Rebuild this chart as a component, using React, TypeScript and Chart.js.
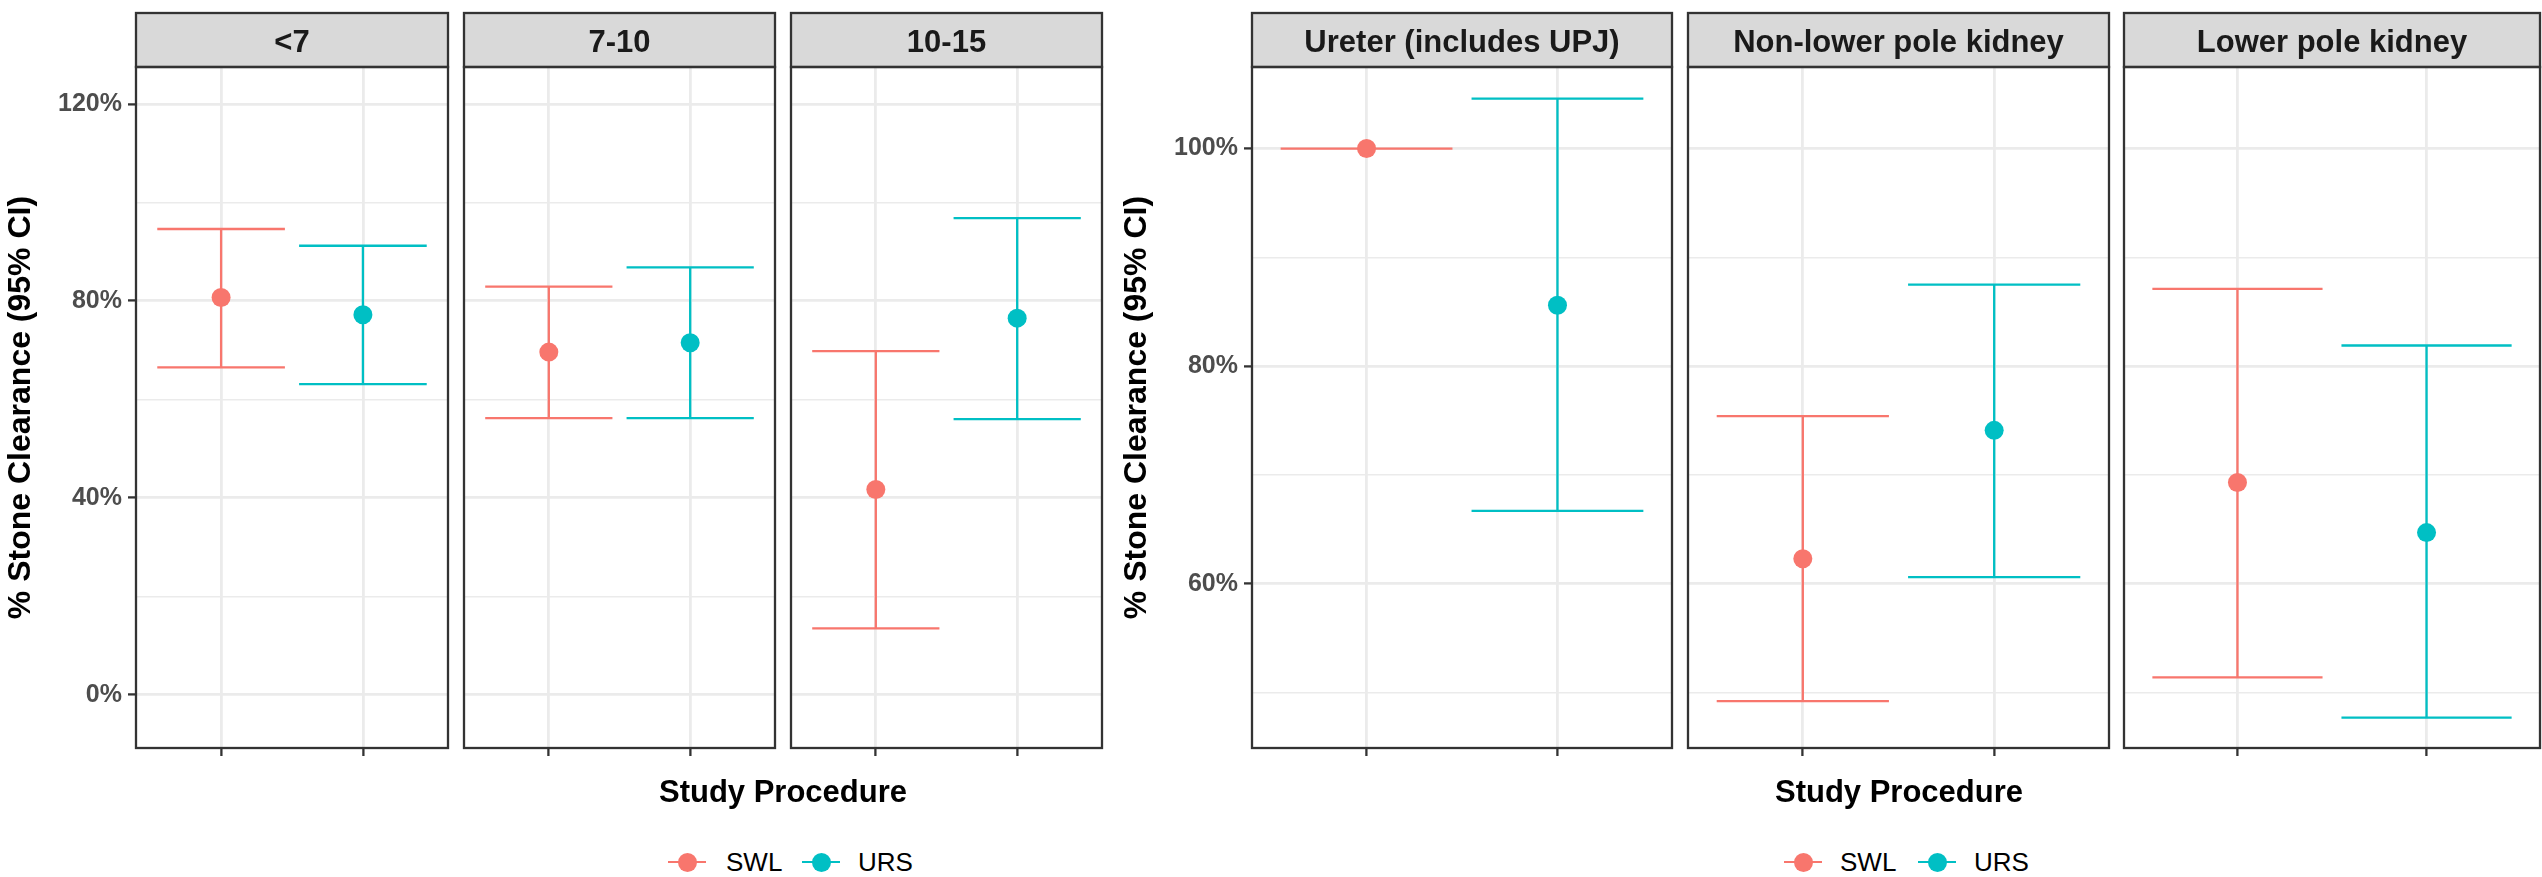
import React, { useEffect, useRef } from "react";
import { Chart, registerables } from "chart.js";

Chart.register(...registerables);

// ---------------- data ----------------
const procedures = ["SWL", "URS"];
const procedurePositions = [1, 2];

const sizeFacets = ["<7", "7-10", "10-15"];
const sizeSwlEst = [80.7, 69.6, 41.7];
const sizeSwlLo = [66.5, 56.2, 13.5];
const sizeSwlHi = [94.6, 82.9, 69.8];
const sizeUrsEst = [77.2, 71.5, 76.5];
const sizeUrsLo = [63.1, 56.2, 56.0];
const sizeUrsHi = [91.2, 86.8, 96.8];
const sizeTicks = [0, 20, 40, 60, 80, 100, 120];
const sizeLabeledTicks = [0, 40, 80, 120];
const sizeRange = [-10.8, 127.5];

const locFacets = ["Ureter (includes UPJ)", "Non-lower pole kidney", "Lower pole kidney"];
const locSwlEst = [100, 62.3, 69.3];
const locSwlLo = [100, 49.2, 51.4];
const locSwlHi = [100, 75.4, 87.1];
const locUrsEst = [85.6, 74.1, 64.7];
const locUrsLo = [66.7, 60.6, 47.7];
const locUrsHi = [104.6, 87.5, 81.9];
const locTicks = [50, 60, 70, 80, 90, 100];
const locLabeledTicks = [60, 80, 100];
const locRange = [44.9, 107.5];

const yTitle = "% Stone Clearance (95% CI)";
const xTitle = "Study Procedure";

// ---------------- style / layout ----------------
const FONT = '"Liberation Sans", Arial, Helvetica, sans-serif';
const COLORS = ["#F8766D", "#00BFC4"];
const GRID = "#ebebeb";
const AXIS = "#333333";
const STRIP_FILL = "#d9d9d9";
const STRIP_H = 54;
const PANEL_TOP = 67;
const PANEL_BOTTOM = 748;
const CANVAS_H = 790;
const Y_AXIS_W = 136;
const ERR_W = 0.9;
const LINE_W = 2.3;
const POINT_R = 9.5;

type PanelSpec = {
  key: string;
  left: number;
  right: number;
  showY: boolean;
  facet: string;
  est: number[];
  lo: number[];
  hi: number[];
  range: number[];
  ticks: number[];
  labeled: number[];
};

const leftPanelBounds = [
  [136, 448],
  [464, 775],
  [791, 1102],
];
const rightPanelBounds = [
  [1252, 1672],
  [1688, 2109],
  [2124, 2540],
];

function buildSpecs(): PanelSpec[] {
  const specs: PanelSpec[] = [];
  sizeFacets.forEach((f, i) => {
    specs.push({
      key: "s" + i,
      left: leftPanelBounds[i][0],
      right: leftPanelBounds[i][1],
      showY: i === 0,
      facet: f,
      est: [sizeSwlEst[i], sizeUrsEst[i]],
      lo: [sizeSwlLo[i], sizeUrsLo[i]],
      hi: [sizeSwlHi[i], sizeUrsHi[i]],
      range: sizeRange,
      ticks: sizeTicks,
      labeled: sizeLabeledTicks,
    });
  });
  locFacets.forEach((f, i) => {
    specs.push({
      key: "l" + i,
      left: rightPanelBounds[i][0],
      right: rightPanelBounds[i][1],
      showY: i === 0,
      facet: f,
      est: [locSwlEst[i], locUrsEst[i]],
      lo: [locSwlLo[i], locUrsLo[i]],
      hi: [locSwlHi[i], locUrsHi[i]],
      range: locRange,
      ticks: locTicks,
      labeled: locLabeledTicks,
    });
  });
  return specs;
}

const errorBarPlugin = {
  id: "errorBars",
  beforeDatasetsDraw(chart: any) {
    const ctx = chart.ctx;
    const xs = chart.scales.x;
    const ys = chart.scales.y;
    ctx.save();
    chart.data.datasets.forEach((ds: any) => {
      ds.data.forEach((d: any) => {
        const cx = xs.getPixelForValue(d.x);
        const l = xs.getPixelForValue(d.x - ERR_W / 2);
        const r = xs.getPixelForValue(d.x + ERR_W / 2);
        const yl = ys.getPixelForValue(d.lo);
        const yh = ys.getPixelForValue(d.hi);
        ctx.strokeStyle = ds.borderColor;
        ctx.lineWidth = LINE_W;
        ctx.lineCap = "butt";
        ctx.beginPath();
        ctx.moveTo(cx, yl);
        ctx.lineTo(cx, yh);
        ctx.moveTo(l, yh);
        ctx.lineTo(r, yh);
        ctx.moveTo(l, yl);
        ctx.lineTo(r, yl);
        ctx.stroke();
      });
    });
    ctx.restore();
  },
};

const framePlugin = {
  id: "frame",
  afterDraw(chart: any, _args: any, opts: any) {
    const ctx = chart.ctx;
    const a = chart.chartArea;
    const w = a.right - a.left;
    const top = a.top - STRIP_H;
    ctx.save();
    ctx.fillStyle = STRIP_FILL;
    ctx.fillRect(a.left, top, w, STRIP_H);
    ctx.strokeStyle = AXIS;
    ctx.lineWidth = LINE_W;
    ctx.strokeRect(a.left, top, w, STRIP_H);
    ctx.strokeRect(a.left, a.top, w, a.bottom - a.top);
    ctx.fillStyle = "#1a1a1a";
    ctx.font = `bold 31px ${FONT}`;
    ctx.textAlign = "center";
    ctx.textBaseline = "alphabetic";
    ctx.fillText(opts.text, (a.left + a.right) / 2, top + 38.7);
    ctx.restore();
  },
};

function Panel({ spec }: { spec: PanelSpec }) {
  const ref = useRef<HTMLCanvasElement>(null);
  const canvasLeft = spec.showY ? spec.left - Y_AXIS_W : spec.left - 2;
  const canvasWidth = spec.right - canvasLeft + 2;

  useEffect(() => {
    if (!ref.current) return;
    const labeled = spec.labeled;
    const isMajor = (ctx: any) => !!ctx.tick && labeled.includes(ctx.tick.value);
    const chart = new Chart(ref.current, {
      type: "scatter",
      data: {
        datasets: procedures.map((p, k) => ({
          label: p,
          data: [{ x: procedurePositions[k], y: spec.est[k], lo: spec.lo[k], hi: spec.hi[k] }],
          backgroundColor: COLORS[k],
          borderColor: COLORS[k],
          pointRadius: POINT_R,
          pointHoverRadius: POINT_R,
          borderWidth: 0,
        })),
      } as any,
      options: {
        animation: false,
        responsive: false,
        devicePixelRatio: 1,
        events: [],
        layout: {
          autoPadding: false,
          padding: { top: PANEL_TOP, left: spec.showY ? 0 : 2, right: 2, bottom: 0 },
        },
        plugins: {
          legend: { display: false },
          tooltip: { enabled: false },
          frame: { text: spec.facet },
        } as any,
        scales: {
          x: {
            type: "linear",
            min: 0.4,
            max: 2.6,
            afterBuildTicks: (s: any) => {
              s.ticks = procedurePositions.map((v) => ({ value: v }));
            },
            ticks: { callback: () => "", padding: 0, autoSkip: false },
            grid: {
              color: GRID,
              lineWidth: 2.8,
              drawTicks: true,
              tickLength: 8,
              tickColor: AXIS,
              tickWidth: LINE_W,
            },
            border: { display: false },
            afterFit: (s: any) => {
              s.height = CANVAS_H - PANEL_BOTTOM;
            },
          },
          y: {
            type: "linear",
            min: spec.range[0],
            max: spec.range[1],
            afterBuildTicks: (s: any) => {
              s.ticks = spec.ticks.map((v) => ({ value: v }));
            },
            ticks: {
              autoSkip: false,
              padding: 6,
              color: "#4d4d4d",
              font: { family: FONT, size: 25, weight: "bold" },
              callback: (v: any) => (spec.showY && labeled.includes(v) ? v + "%" : ""),
            },
            grid: {
              color: GRID,
              lineWidth: (ctx: any) => (isMajor(ctx) ? 2.8 : 1.4),
              drawTicks: spec.showY,
              tickLength: 8,
              tickColor: (ctx: any) => (isMajor(ctx) ? AXIS : "rgba(0,0,0,0)"),
              tickWidth: LINE_W,
            },
            border: { display: false },
            title: {
              display: spec.showY,
              text: yTitle,
              color: "#000000",
              font: { family: FONT, size: 32, weight: "bold" },
              padding: { top: 2, bottom: 0 },
            },
            afterFit: (s: any) => {
              s.width = spec.showY ? Y_AXIS_W : 0;
            },
          },
        },
      } as any,
      plugins: [errorBarPlugin, framePlugin],
    });
    return () => chart.destroy();
  }, []);

  return (
    <canvas
      ref={ref}
      width={canvasWidth}
      height={CANVAS_H}
      style={{ position: "absolute", left: canvasLeft, top: 0, width: canvasWidth, height: CANVAS_H }}
    />
  );
}

function XTitle({ center }: { center: number }) {
  return (
    <div
      style={{
        position: "absolute",
        left: center - 300,
        width: 600,
        top: 776,
        textAlign: "center",
        font: `bold 31px/31px ${FONT}`,
        color: "#000",
        whiteSpace: "nowrap",
      }}
    >
      {xTitle}
    </div>
  );
}

function Legend({ keyLefts, textLefts }: { keyLefts: number[]; textLefts: number[] }) {
  const cy = 862;
  return (
    <>
      {procedures.map((p, k) => (
        <React.Fragment key={p}>
          <div
            style={{
              position: "absolute",
              left: keyLefts[k],
              top: cy - LINE_W / 2,
              width: 38,
              height: LINE_W,
              background: COLORS[k],
            }}
          />
          <div
            style={{
              position: "absolute",
              left: keyLefts[k] + 19 - POINT_R,
              top: cy - POINT_R,
              width: POINT_R * 2,
              height: POINT_R * 2,
              borderRadius: "50%",
              background: COLORS[k],
            }}
          />
          <div
            style={{
              position: "absolute",
              left: textLefts[k],
              top: 849,
              font: `26px/26px ${FONT}`,
              color: "#000",
              whiteSpace: "nowrap",
            }}
          >
            {p}
          </div>
        </React.Fragment>
      ))}
    </>
  );
}

export default function App() {
  const specs = buildSpecs();
  return (
    <div
      style={{
        position: "absolute",
        left: 0,
        top: 0,
        width: 2542,
        height: 877,
        background: "#ffffff",
        overflow: "hidden",
        fontFamily: FONT,
      }}
    >
      {specs.map((s) => (
        <Panel key={s.key} spec={s} />
      ))}
      <XTitle center={783} />
      <XTitle center={1899} />
      <Legend keyLefts={[668, 802]} textLefts={[726, 858]} />
      <Legend keyLefts={[1784, 1918]} textLefts={[1840, 1974]} />
    </div>
  );
}
